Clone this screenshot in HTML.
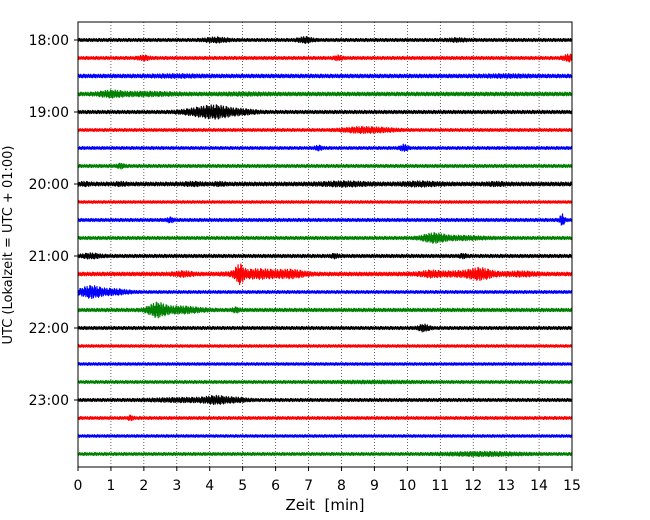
<!DOCTYPE html>
<html><head><meta charset="utf-8"><style>
body{margin:0;background:#fff;width:650px;height:520px;overflow:hidden}
svg{display:block;font-family:"DejaVu Sans","Liberation Sans",sans-serif}
</style></head><body>
<svg id="chart" width="650" height="520">
<rect x="0" y="0" width="650" height="520" fill="#fff"/>
<g id="grid"></g>
<g id="traces"></g>
<rect x="78" y="22" width="494" height="445" fill="none" stroke="#000" stroke-width="1"/>
<g id="xaxis"></g>
<g id="yaxis"></g>
<text x="325" y="510" font-size="15" text-anchor="middle" xml:space="preserve">Zeit  [min]</text>
<text transform="translate(12,245) rotate(-90)" font-size="13" text-anchor="middle">UTC (Lokalzeit = UTC + 01:00)</text>
</svg>
<script>
const xTicks=[0,1,2,3,4,5,6,7,8,9,10,11,12,13,14,15];
const hourLabels=["18:00","19:00","20:00","21:00","22:00","23:00"];
const traceColors=["#000000","#ff0000","#0000ff","#008000"];
const baseAmp=[1.5,1.5,1.8,1.8,1.6,1.4,1.4,1.5,1.9,1.3,1.5,1.5,1.6,1.8,1.4,1.6,1.5,1.3,1.3,1.4,1.5,1.4,1.3,1.4];
// events per trace: [minute, amplitude(px), width(min)]
const traceEvents=[
 [[4.2,1.5,0.25],[6.9,2,0.15],[11.5,0.8,0.2]],
 [[2,1.5,0.12],[7.9,1.5,0.08],[14.9,2.5,0.12]],
 [[3,0.5,0.5],[13,0.5,0.5]],
 [[1,2,0.25],[2,1,0.6],[5,0.4,0.5]],
 [[4.2,5,0.35],[3.6,2,0.35],[5,1.5,0.3]],
 [[8.6,2,0.4],[9.3,0.8,0.3]],
 [[7.3,1.5,0.08],[9.9,2.5,0.08]],
 [[1.3,1.5,0.08]],
 [[0.2,0.8,0.1],[1.3,0.8,0.1],[3.5,0.8,0.2],[4.3,0.8,0.1],[8.1,1.2,0.5],[10.4,1.2,0.4],[12.7,0.8,0.2]],
 [],
 [[2.8,1.5,0.08],[14.7,5,0.05]],
 [[10.8,3.5,0.25],[11.6,1.2,0.5]],
 [[0.4,1.5,0.2],[7.8,1.2,0.08],[11.7,1.2,0.08]],
 [[3.2,1.5,0.2],[4.9,7,0.1],[5.5,3.5,0.5],[6.5,2.5,0.3],[10.7,1.5,0.2],[12.2,3.5,0.25],[11.7,1.5,0.8],[13.5,1.2,0.3]],
 [[0.4,5,0.25],[1.1,2,0.3]],
 [[2.4,5.5,0.2],[3.1,2.5,0.45],[4.8,1.5,0.08]],
 [[10.5,2.5,0.12]],
 [],
 [],
 [[9,0.4,1]],
 [[4.2,2.5,0.25],[3.3,1.2,0.7],[4.8,1.2,0.25]],
 [[1.6,1.5,0.06]],
 [],
 [[12.3,1.2,0.8]]
];
const NS="http://www.w3.org/2000/svg";
const x0=78,x1=572,yTop=22,yBot=467,traceStart=40,traceStep=18;
const xs=m=>x0+(m-xTicks[0])/(xTicks[xTicks.length-1]-xTicks[0])*(x1-x0);
const ys=i=>traceStart+i*traceStep;
function mk(tag,attrs,parent){const e=document.createElementNS(NS,tag);for(const k in attrs)e.setAttribute(k,attrs[k]);parent.appendChild(e);return e;}
const grid=document.getElementById('grid'),xa=document.getElementById('xaxis'),ya=document.getElementById('yaxis'),tr=document.getElementById('traces');
xTicks.forEach(t=>{
 const x=xs(t);
 if(t>xTicks[0]&&t<xTicks[xTicks.length-1]){const g=mk('line',{x1:x,x2:x,y1:yTop,y2:yBot,stroke:'#000','stroke-width':0.6,'stroke-dasharray':'1,2'},grid);
 
 }
 const tk=mk('line',{x1:x,x2:x,y1:yBot,y2:yBot+4,stroke:'#000'},xa);
 
 
 const lb=mk('text',{x:x,y:490,'font-size':14,'text-anchor':'middle'},xa);lb.textContent=t;
 
 
});
hourLabels.forEach((h,k)=>{
 const y=ys(k*4);
 const tk=mk('line',{x1:x0-4,x2:x0,y1:y,y2:y,stroke:'#000'},ya);
 
 
 const lb=mk('text',{x:x0-9,y:y+5,'font-size':14,'text-anchor':'end'},ya);lb.textContent=h;
 
 
});
const pattern=[1,-0.5,0.8,-1,0.3,-0.9,0.7,-0.4,1,-0.8,0.2,-0.6,0.9,-0.3,0.6,-1,0.4,-0.7,0.85,-0.2,0.5,-0.95,0.75,-0.5,0.1];
traceEvents.forEach((ev,i)=>{
 const cy=ys(i);let d='';const step=0.012;let n=0;
 for(let m=0;m<=15.0001;m+=step,n++){
  let a=baseAmp[i];
  ev.forEach(e=>{const z=(m-e[0])/e[2];a+=e[1]*Math.exp(-0.5*z*z);});
  const y=cy+a*pattern[(n+i*7)%pattern.length];
  d+=(n?'L':'M')+xs(m).toFixed(2)+','+y.toFixed(2);
 }
 const p=mk('path',{d:d,fill:'none',stroke:traceColors[i%4],'stroke-width':1.2,'stroke-linejoin':'round'},tr);
 
 
});
</script>
</body></html>
